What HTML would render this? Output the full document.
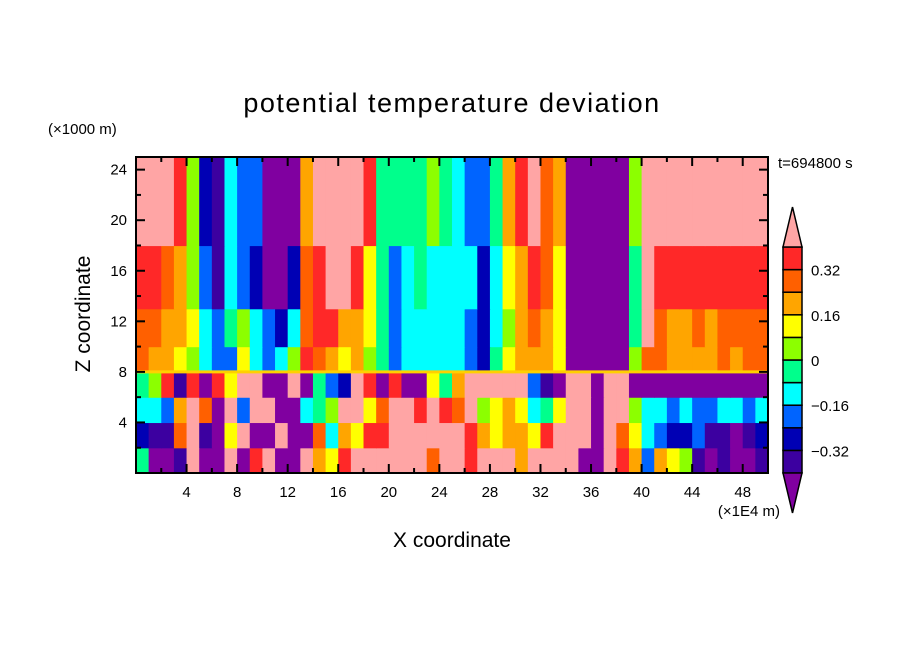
<!DOCTYPE html>
<html><head><meta charset="utf-8"><style>
body{margin:0;background:#fff;}
svg text{font-family:"Liberation Sans",sans-serif;fill:#000;}
</style></head><body>
<svg id="chart" width="904" height="654" viewBox="0 0 904 654" xmlns="http://www.w3.org/2000/svg">
<rect width="904" height="654" fill="#fff"/>
<text x="452" y="112" font-size="27" text-anchor="middle" letter-spacing="1.5">potential temperature deviation</text>
<text x="48" y="134" font-size="15">(×1000 m)</text>
<text x="778" y="168" font-size="15">t=694800 s</text>
<text x="0" y="0" font-size="21" text-anchor="middle" transform="translate(90,314) rotate(-90)">Z coordinate</text>
<text x="452" y="547" font-size="21" text-anchor="middle">X coordinate</text>
<text x="780" y="516" font-size="15" text-anchor="end">(×1E4 m)</text>
<g id="field"></g>
<g id="axes"></g>
<g id="cbar"></g>
</svg>
<script>
// colour levels (index 0 = lowest, 11 = highest)
const levelColors = ["#8000a0","#3c00a0","#0000b4","#0064ff","#00ffff","#00ff8c","#8cff00","#ffff00","#ffa500","#ff6000","#ff2828","#ffa5a5"];
const colorbarLabels = ["0.32","0.16","0","-0.16","-0.32"];
const colorbarLabelValues = [0.32,0.16,0,-0.16,-0.32];
const levelBounds = [-0.40,-0.32,-0.24,-0.16,-0.08,0,0.08,0.16,0.24,0.32,0.40];
const xTicks = [4,8,12,16,20,24,28,32,36,40,44,48];
const zTicks = [4,8,12,16,20,24];
// z-row boundaries (×1000 m)
const zRows = [0,2,4,6,8,10,13,18,25];
// level index (hex) per x unit (0..49), one string per z row, bottom to top
const row0 = "5001B00B0AB00B87ABBBBBB9B" + "BABBB8BBBB00BA83876101001";
const row1 = "2119B107B00B009487AABBBBB" + "BA87887ABBB0B974322311012";
const row2 = "4438B90B3BB00456BB79BBABA" + "9B6787457BB0BB64434334434";
const row3 = "56A1A0A7BB00B0532BA0A0075" + "8BBBBB310BB0BB00000000000";
const row4 = "9887643374346A98786534444" + "4325788870000069988889899";
const row5 = "99887435643249AA887534444" + "43246898700000" + "5B988989999";
const row6 = "AA986314320029ABBA7534544" + "442478A9700000" + "5BAAAAAAAAA";
const row7 = "BBBA6214330008BBBBA555565" + "43358AB9800000" + "6BBBBBBBBBB";
const fieldRows = [row0,row1,row2,row3,row4,row5,row6,row7];

const X0=136,X1=768,Y0=473,Y1=157,XMAX=50,ZMAX=25;
function xs(v){return X0+(X1-X0)*v/XMAX;}
function zs(v){return Y0-(Y0-Y1)*v/ZMAX;}
const NS="http://www.w3.org/2000/svg";
function mk(tag,attrs,parent){const e=document.createElementNS(NS,tag);for(const k in attrs)e.setAttribute(k,attrs[k]);parent.appendChild(e);return e;}

const field=document.getElementById('field');
fieldRows.forEach((r,ri)=>{
  for(let u=0;u<XMAX;u++){
    const ch=r[Math.min(u,r.length-1)];
    const lv=parseInt(ch,16);
    const c=mk('rect',{x:xs(u),y:zs(zRows[ri+1]),width:xs(u+1)-xs(u)+0.6,height:zs(zRows[ri])-zs(zRows[ri+1])+0.6,fill:levelColors[lv]},field);
    
    
  }
});
const ln=mk('rect',{x:X0,y:zs(8)-1.5,width:X1-X0,height:3,fill:"#ffd000"},field);



const axes=document.getElementById('axes');
const fr=mk('rect',{x:X0,y:Y1,width:X1-X0,height:Y0-Y1,fill:"none",stroke:"#000","stroke-width":2},axes);


for(let v=2;v<XMAX;v+=2){
  const L=(v%4===0)?9:5;
  mk('line',{x1:xs(v),x2:xs(v),y1:Y0,y2:Y0-L,stroke:"#000","stroke-width":2},axes);
  mk('line',{x1:xs(v),x2:xs(v),y1:Y1,y2:Y1+L,stroke:"#000","stroke-width":2},axes);
}
for(let v=2;v<ZMAX;v+=2){
  const L=(v%4===0)?9:5;
  mk('line',{x1:X0,x2:X0+L,y1:zs(v),y2:zs(v),stroke:"#000","stroke-width":2},axes);
  mk('line',{x1:X1,x2:X1-L,y1:zs(v),y2:zs(v),stroke:"#000","stroke-width":2},axes);
}
xTicks.forEach(v=>{const t=mk('text',{x:xs(v),y:497,"font-size":15,"text-anchor":"middle"},axes);t.textContent=v;
  
  });
zTicks.forEach(v=>{const t=mk('text',{x:127,y:zs(v)+5,"font-size":15,"text-anchor":"end"},axes);t.textContent=v;
  
  });

// colorbar
const cb=document.getElementById('cbar');
const CX0=783,CX1=802,CTOP=247,CBOT=473,nBox=levelBounds.length-1;
const bh=(CBOT-CTOP)/nBox;
function cy(v){return CBOT-(v-levelBounds[0])/(levelBounds[nBox]-levelBounds[0])*(CBOT-CTOP);}
for(let i=0;i<nBox;i++){
  const b=mk('rect',{x:CX0,y:cy(levelBounds[i+1]),width:CX1-CX0,height:bh,fill:levelColors[i+1],stroke:"#000","stroke-width":1.5},cb);
  
  
}
const tt=mk('polygon',{points:`${CX0},${CTOP} ${CX1},${CTOP} ${(CX0+CX1)/2},207`,fill:levelColors[11],stroke:"#000","stroke-width":1.5},cb);


const bt=mk('polygon',{points:`${CX0},${CBOT} ${CX1},${CBOT} ${(CX0+CX1)/2},513`,fill:levelColors[0],stroke:"#000","stroke-width":1.5},cb);


colorbarLabels.forEach((s,i)=>{const t=mk('text',{x:811,y:cy(colorbarLabelValues[i])+6,"font-size":15},cb);t.textContent=s.replace('-','−');
  
  });
</script>
</body></html>
